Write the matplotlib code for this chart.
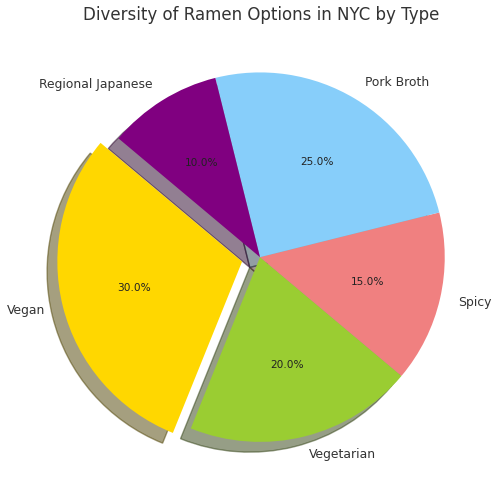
import matplotlib
matplotlib.use('Agg')
import matplotlib.pyplot as plt

# data
labels = ['Vegan', 'Vegetarian', 'Spicy', 'Pork Broth', 'Regional Japanese']
sizes = [30, 20, 15, 25, 10]
colors = ['gold', 'yellowgreen', 'lightcoral', 'lightskyblue', 'purple']
explode = (0.1, 0, 0, 0, 0)

plt.rcParams['text.color'] = '#333333'

fig = plt.figure(figsize=(5, 4.95), dpi=100)
ax = fig.add_axes([0.058, 0.014, 0.924, 0.933])

wedges, texts, autotexts = ax.pie(sizes, explode=explode, labels=labels, colors=colors,
                                  autopct='%1.1f%%', startangle=140,
                                  shadow={'ox': -0.04, 'oy': -0.04},
                                  textprops={'fontsize': 8.9, 'color': '#333333'})
for t in autotexts:
    t.set_fontsize(7.6)
    t.set_color('#222222')

fig.text(0.522, 1 - 15 / 495, 'Diversity of Ramen Options in NYC by Type',
         ha='center', va='center', fontsize=12, color='#333333')

fig.savefig('out.png', dpi=100)
